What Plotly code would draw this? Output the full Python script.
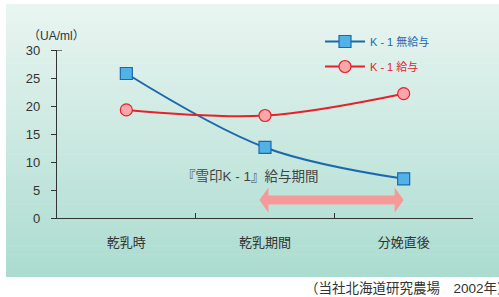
import plotly.graph_objects as go

categories = ["乾乳時", "乾乳期間", "分娩直後"]
no_k1 = [25.8, 12.6, 7.0]
with_k1 = [19.3, 18.3, 22.2]
y_ticks = [0, 5, 10, 15, 20, 25, 30]
name_no = "K - 1 無給与"
name_with = "K - 1 給与"
arrow_label = "『雪印K - 1』給与期間"
unit_label = "（UA/ml）"
source_label = "（当社北海道研究農場　2002年）"

FONT = "Liberation Sans, Arial, Noto Sans CJK JP, sans-serif"
BLUE_LINE = "#1a68b0"
RED_LINE = "#e8202a"

fig = go.Figure()
fig.add_trace(go.Scatter(
    x=categories, y=no_k1, mode="lines+markers",
    name=f"<span style='color:{BLUE_LINE}'>{name_no}</span>",
    line=dict(color=BLUE_LINE, width=2, shape="spline", smoothing=1),
    marker=dict(symbol="square", size=12, color="#52b2e8", line=dict(color=BLUE_LINE, width=1.2)),
    legendgroup="a",
))
fig.add_trace(go.Scatter(
    x=categories, y=with_k1, mode="lines+markers",
    name=f"<span style='color:{RED_LINE}'>{name_with}</span>",
    line=dict(color=RED_LINE, width=2, shape="spline", smoothing=1),
    marker=dict(symbol="circle", size=12, color="#f7a6aa", line=dict(color=RED_LINE, width=1.2)),
    legendgroup="b",
))

# plot area pixel geometry
W, H = 499, 297
L, R, T, B = 57, 26, 50, 79
pw, ph = W - L - R, H - T - B

def px_x(p):
    return (p - L) / pw

def px_y(p):
    return (H - B - p) / ph

# gradient panel as bands
shapes = []
top_c = (0xe9, 0xf5, 0xf1)
bot_c = (0xab, 0xdc, 0xd0)
x0p, x1p = px_x(6), px_x(W + 2)
ytop, ybot = 4, 277
n = 60
for i in range(n):
    t = i / (n - 1)
    c = tuple(round(top_c[k] + (bot_c[k] - top_c[k]) * t) for k in range(3))
    ya = ytop + (ybot - ytop) * i / n
    yb = ytop + (ybot - ytop) * (i + 1) / n + 0.6
    shapes.append(dict(type="rect", xref="paper", yref="paper",
                       x0=x0p, x1=x1p, y0=px_y(min(yb, ybot)), y1=px_y(ya),
                       fillcolor="rgb(%d,%d,%d)" % c, line=dict(width=0), layer="below"))

# double-headed arrow (in data coords, x as category index)
xl, xr = 0.96, 2.0
hl = 0.065
yc, hb, hh = 3.2, 0.8, 2.25
path = (f"M {xl},{yc} L {xl+hl},{yc+hh} L {xl+hl},{yc+hb} L {xr-hl},{yc+hb} "
        f"L {xr-hl},{yc+hh} L {xr},{yc} L {xr-hl},{yc-hh} L {xr-hl},{yc-hb} "
        f"L {xl+hl},{yc-hb} L {xl+hl},{yc-hh} Z")
shapes.append(dict(type="path", path=path, xref="x", yref="y",
                   fillcolor="#f59a98", line=dict(width=0), layer="above"))
# small tick at top of y axis
shapes.append(dict(type="line", xref="paper", yref="y", x0=0, x1=px_x(62), y0=30, y1=30,
                   line=dict(color="#333", width=1.3)))

fig.update_layout(
    width=W, height=H,
    margin=dict(l=L, r=R, t=T, b=B),
    paper_bgcolor="white", plot_bgcolor="rgba(0,0,0,0)",
    font=dict(family=FONT, size=12, color="#333"),
    shapes=shapes,
    showlegend=True,
    legend=dict(x=px_x(320), y=px_y(27), xanchor="left", yanchor="top",
                bgcolor="rgba(0,0,0,0)", font=dict(size=11, family=FONT),
                tracegroupgap=6, itemwidth=40),
    xaxis=dict(type="category", range=[-0.5, 2.5], tickson="boundaries",
               ticks="inside", ticklen=5, tickcolor="#333", tickwidth=1.2,
               showline=True, linecolor="#333", linewidth=1.3,
               showgrid=False, zeroline=False, fixedrange=True,
               tickfont=dict(size=13, color="#333"), ticklabelstandoff=12),
    yaxis=dict(range=[0, 30], tickvals=y_ticks, ticks="outside", ticklen=5,
               tickcolor="#333", tickwidth=1.2,
               showline=True, linecolor="#333", linewidth=1.3,
               showgrid=False, zeroline=False, fixedrange=True,
               tickfont=dict(size=13, color="#333"), ticklabelstandoff=8),
    annotations=[
        dict(text=unit_label, xref="paper", yref="paper", x=px_x(56), y=px_y(36),
             xanchor="center", yanchor="middle", showarrow=False,
             font=dict(size=12, color="#333")),
        dict(text=arrow_label, xref="paper", yref="paper", x=px_x(180), y=px_y(176),
             xanchor="left", yanchor="middle", showarrow=False,
             font=dict(size=13.5, color="#444")),
        dict(text=source_label, xref="paper", yref="paper", x=px_x(303), y=px_y(288),
             xanchor="left", yanchor="middle", showarrow=False,
             font=dict(size=13.5, color="#333")),
    ],
)

fig.write_html("out.html", config={"displayModeBar": False},
               post_script="document.body.style.margin='0';")
